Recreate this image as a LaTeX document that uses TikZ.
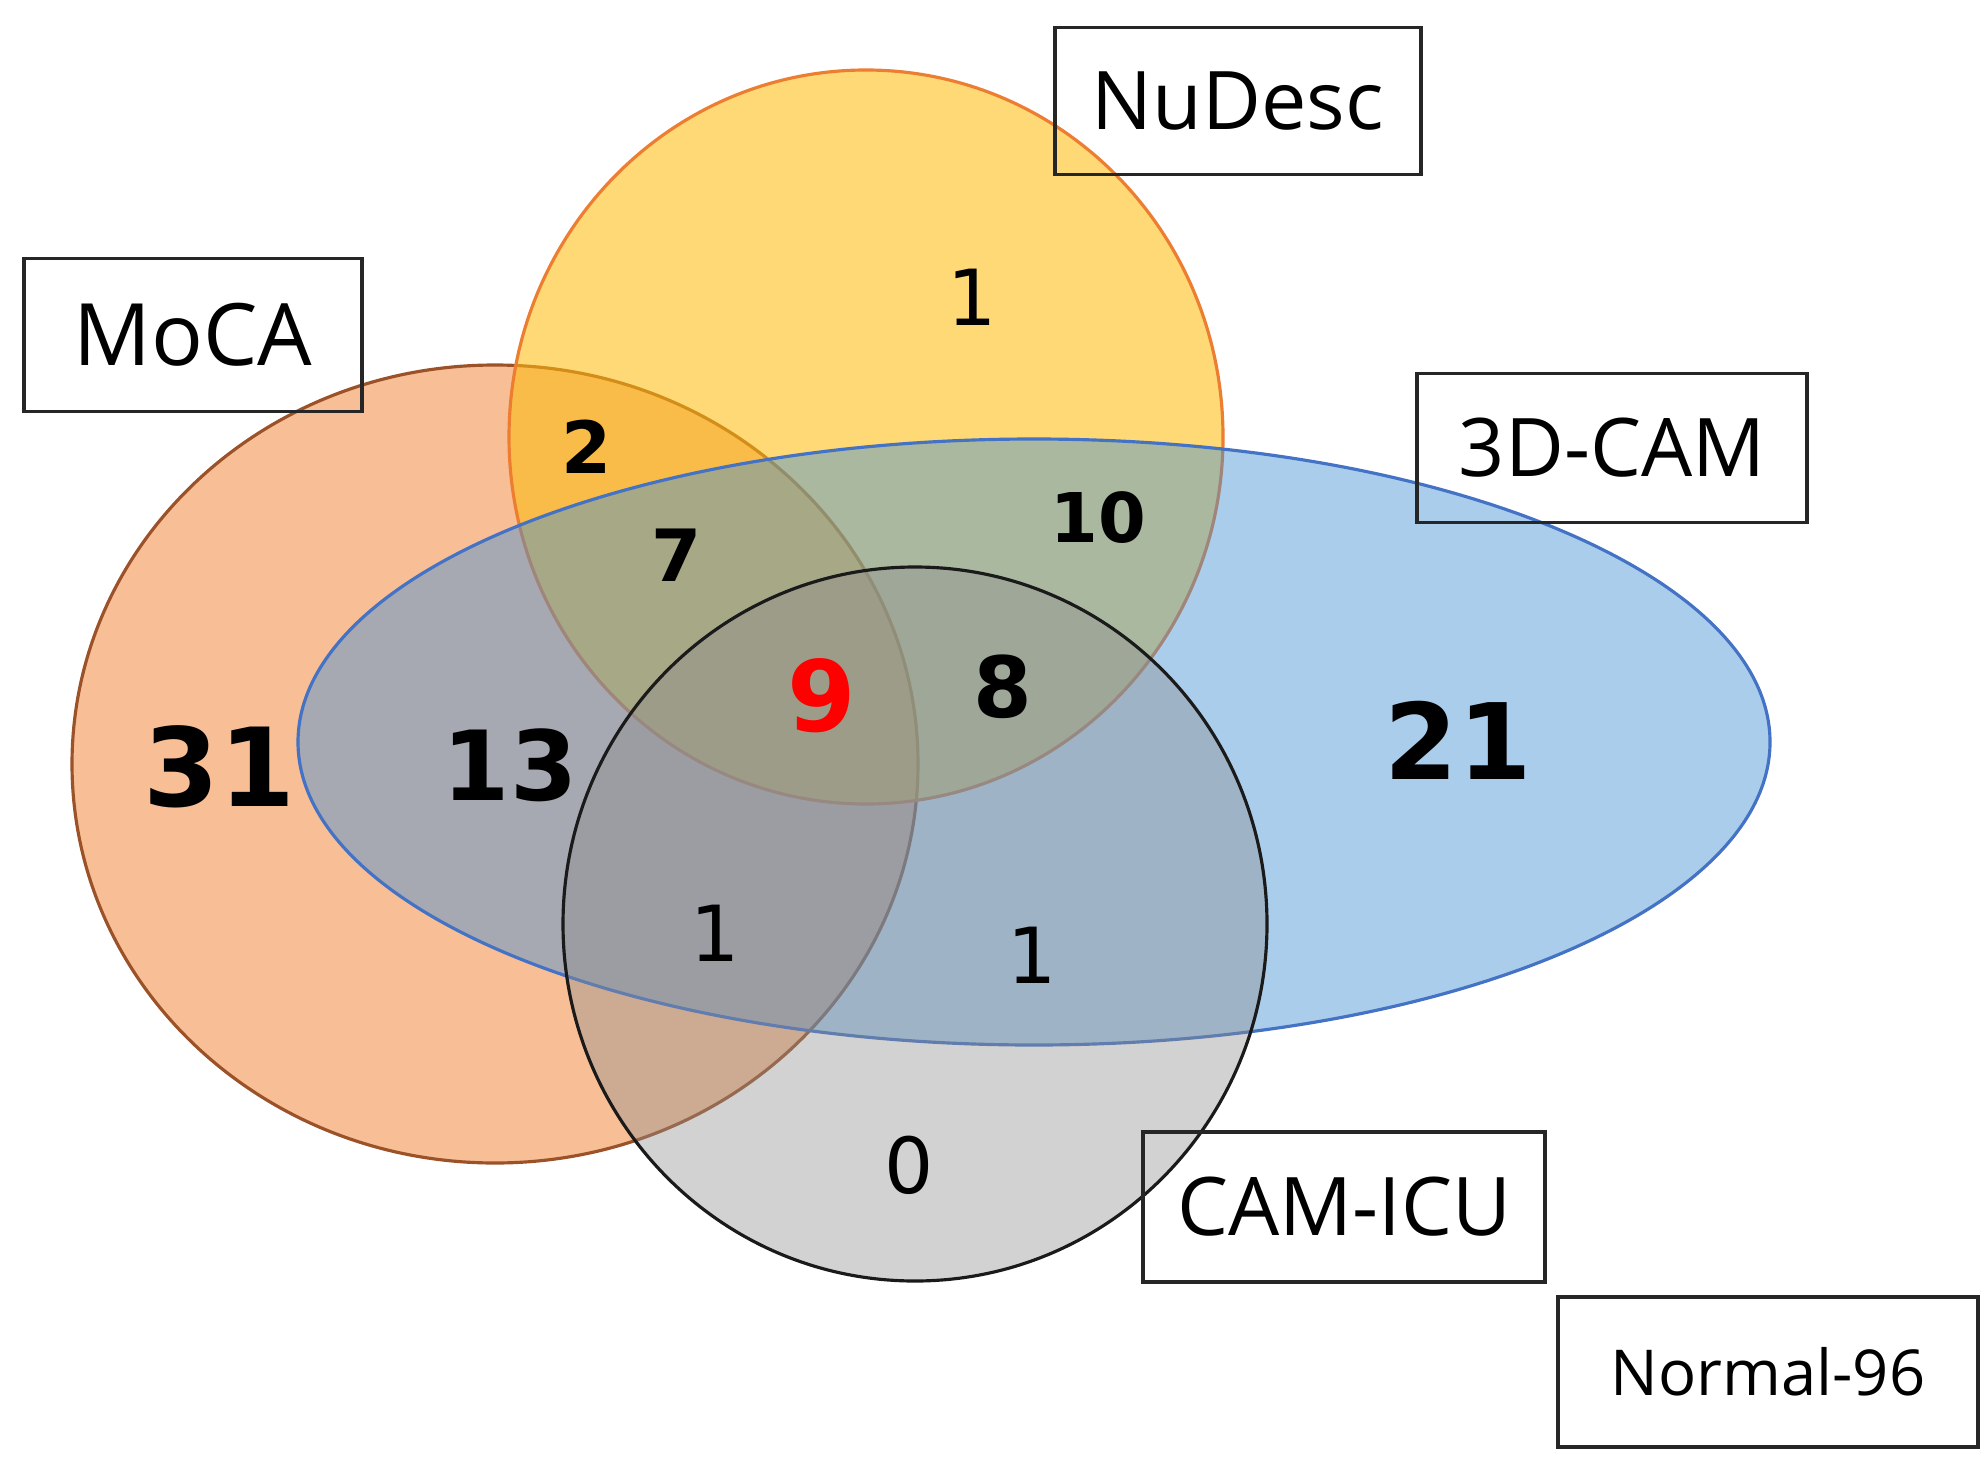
\documentclass[tikz,border=0pt]{standalone}
\usepackage{fontspec}
\setmainfont{Open Sans}
\newfontfamily\numfont{DejaVu Sans}
\definecolor{mocafill}{RGB}{241,125,45}
\definecolor{mocaline}{HTML}{9C5228}
\definecolor{nufill}{RGB}{253,188,14}
\definecolor{nuline}{HTML}{ED7D31}
\definecolor{camfill}{RGB}{67,144,211}
\definecolor{camline}{HTML}{4472C4}
\definecolor{icufill}{RGB}{142,142,142}
\definecolor{iculine}{HTML}{1A1A1A}
\tikzset{
  setname/.style={draw=black!85, line width=1.1pt, inner sep=0pt, font=\fontsize{23}{28}\selectfont},
  plain/.style={font=\numfont\fontsize{22}{26}\selectfont},
  bold/.style={font=\numfont\bfseries\fontsize{20.5}{26}\selectfont},
  venn/.style={line width=0.9pt}
}
\begin{document}
\begin{tikzpicture}[x=0.01cm, y=-0.01cm]
\useasboundingbox (0,0) rectangle (1986,1458);
% the four sets
\draw[venn, draw=mocaline, fill=mocafill, fill opacity=0.5] (495,764) ellipse [x radius=423, y radius=399];
\draw[venn, draw=nuline, fill=nufill, fill opacity=0.57] (866,437) ellipse [x radius=357, y radius=367];
\draw[venn, draw=camline, fill=camfill, fill opacity=0.45] (1034,742) ellipse [x radius=736, y radius=303];
\draw[venn, draw=iculine, fill=icufill, fill opacity=0.4] (915,924) ellipse [x radius=352, y radius=357];
% set names
\node(moca) [setname, minimum width=3.37cm, minimum height=1.53cm, font=\fontsize{24.5}{29}\selectfont] at (193,335) {MoCA};
\node(nudesc) [setname, minimum width=3.66cm, minimum height=1.47cm] at (1238,101) {NuDesc};
\node(cam3d) [setname, minimum width=3.90cm, minimum height=1.49cm] at (1612,448) {3D-CAM};
\node(camicu) [setname, minimum width=4.02cm, minimum height=1.50cm] at (1344,1207) {CAM-ICU};
\node(normal) [setname, minimum width=4.19cm, minimum height=1.50cm, font=\fontsize{18}{22}\selectfont] at (1768,1372) {Normal-96};
% counts
\node(n1a) [plain] at (972,297) {1};
\node(n2) [bold] at (587,447) {2};
\node(n10) [bold, font=\numfont\bfseries\fontsize{19.5}{24}\selectfont] at (1098,518) {10};
\node(n7) [bold] at (677,555) {7};
\node(n9) [bold, text=red, font=\numfont\bfseries\fontsize{28}{34}\selectfont] at (822,696) {9};
\node(n8) [bold, font=\numfont\bfseries\fontsize{24}{30}\selectfont] at (1003,687) {8};
\node(n31) [bold, font=\numfont\bfseries\fontsize{31}{38}\selectfont] at (219,767) {31};
\node(n13) [bold, font=\numfont\bfseries\fontsize{27.5}{34}\selectfont] at (510,765) {13};
\node(n21) [bold, font=\numfont\bfseries\fontsize{30}{36}\selectfont] at (1458,740) {21};
\node(n1b) [plain] at (715,933) {1};
\node(n1c) [plain] at (1032,955) {1};
\node(n0) [plain] at (909,1165) {0};
\end{tikzpicture}
\end{document}
